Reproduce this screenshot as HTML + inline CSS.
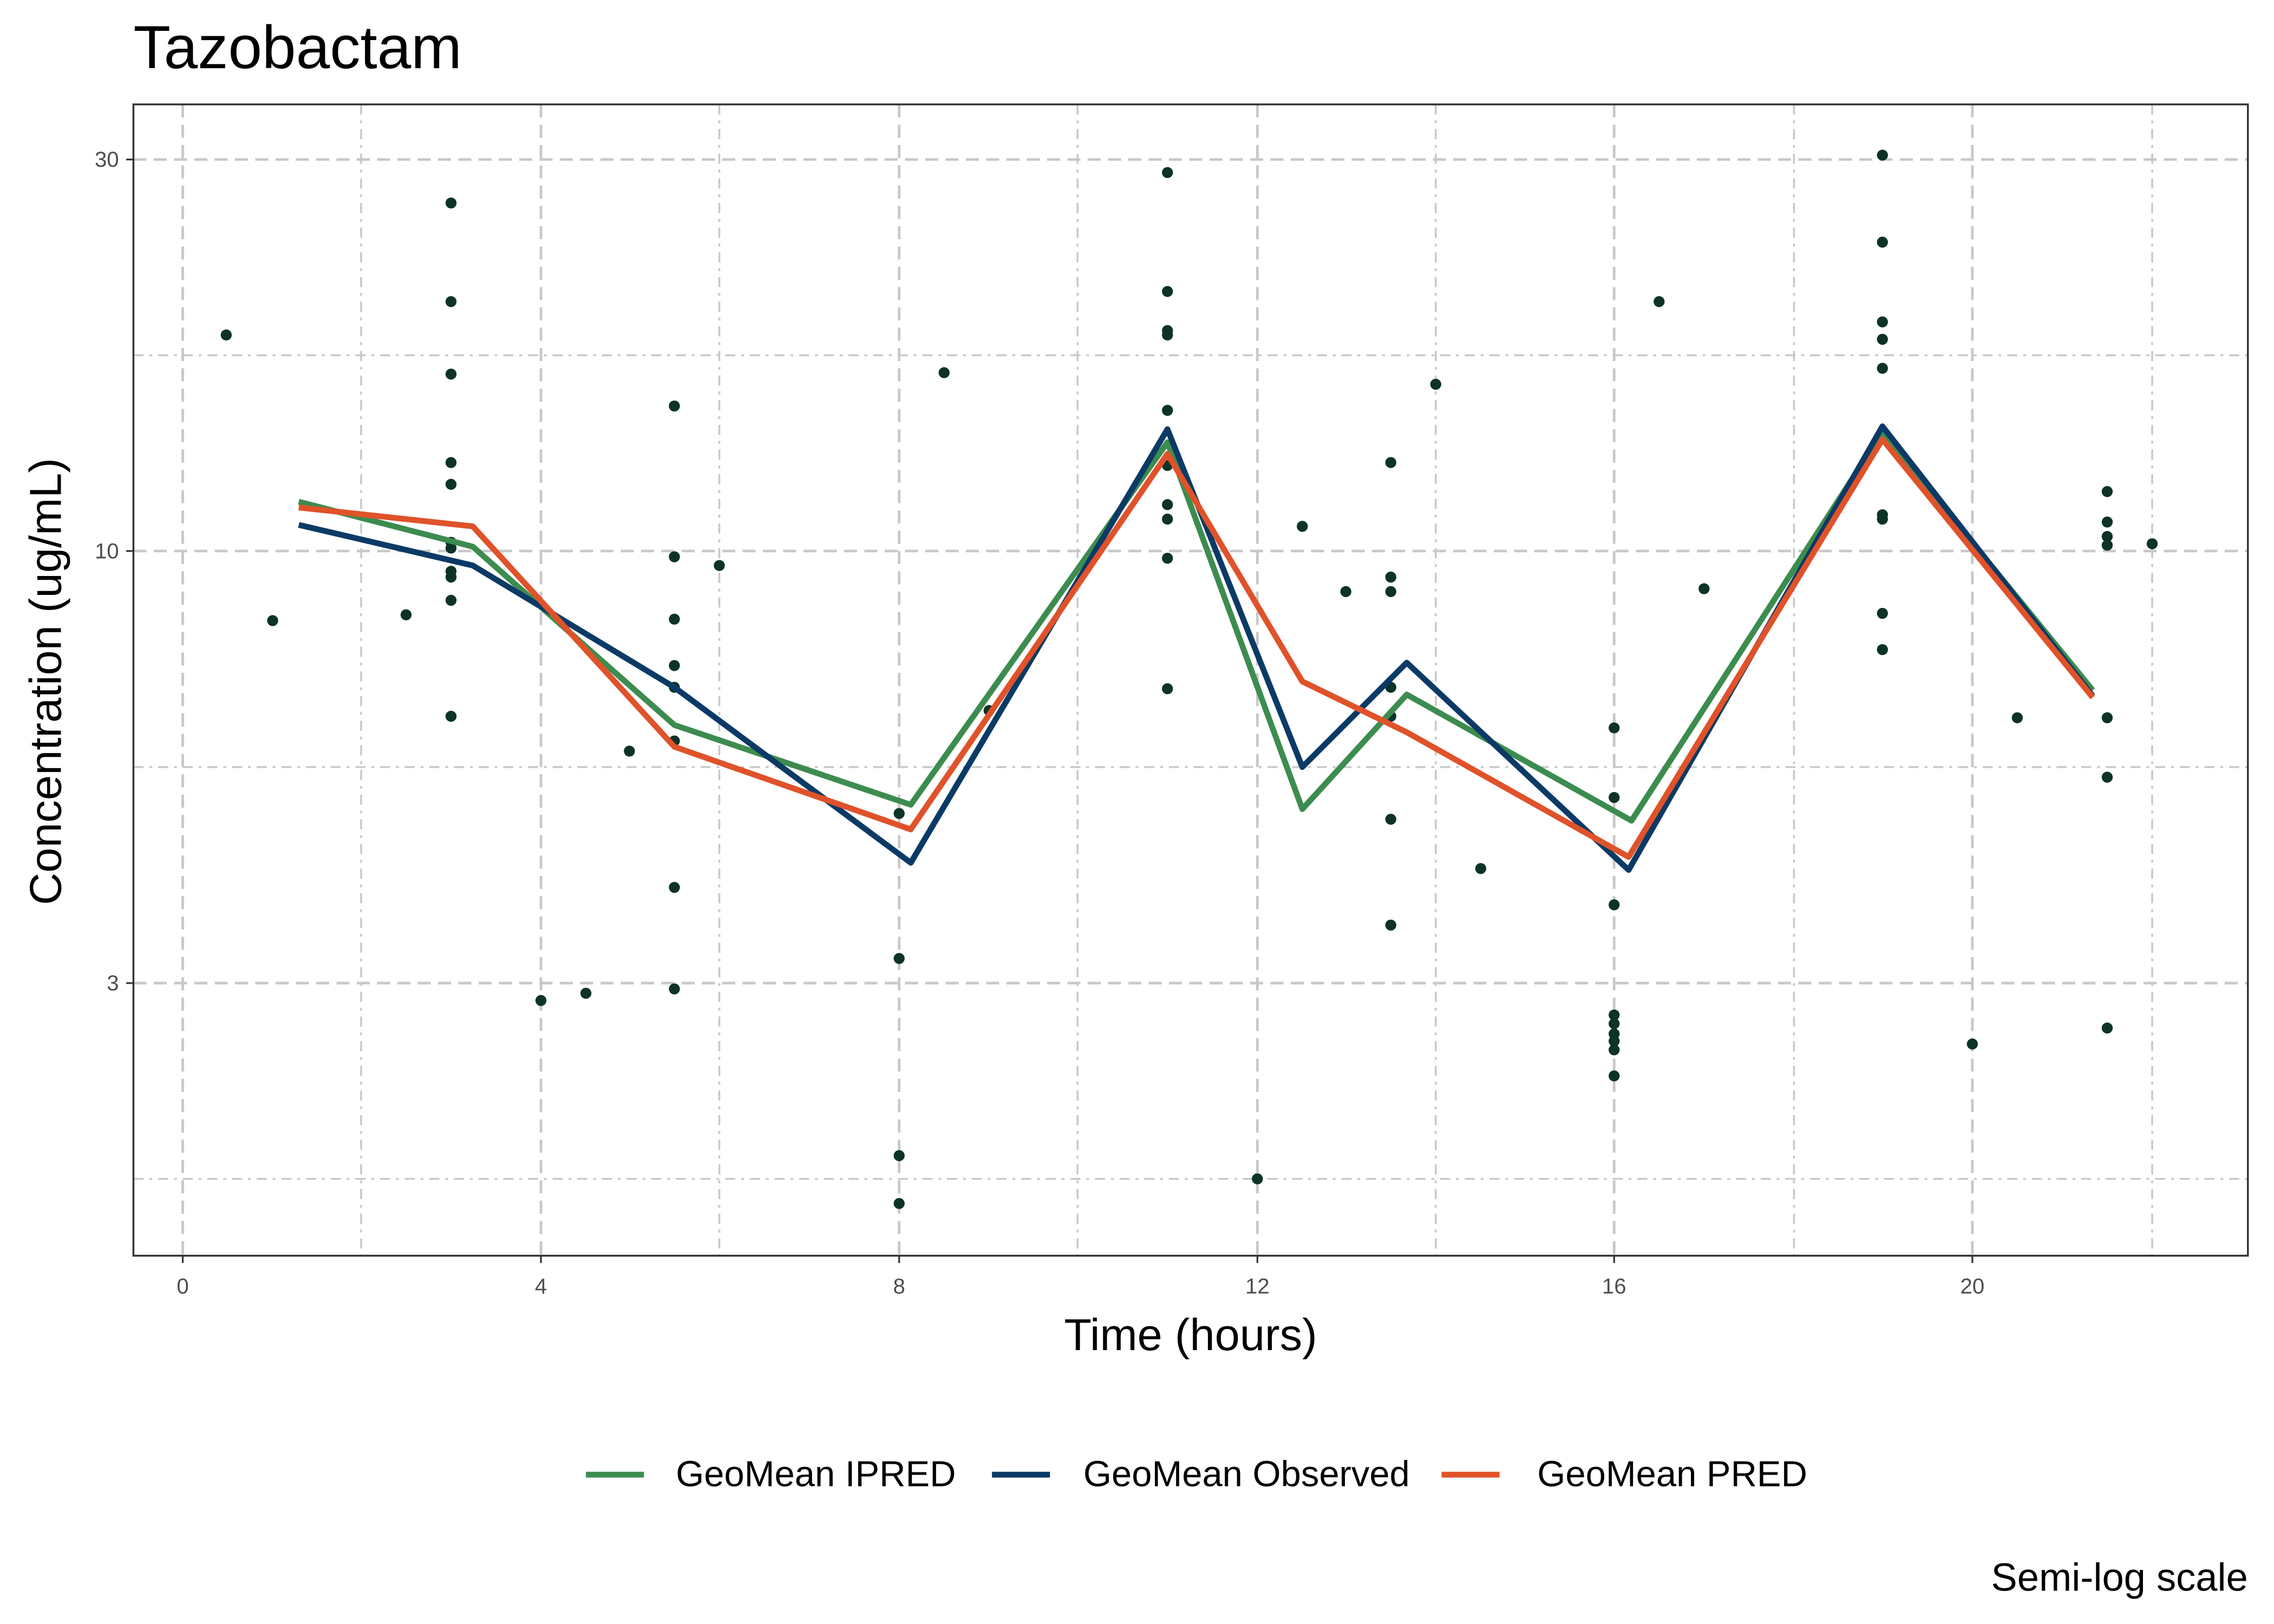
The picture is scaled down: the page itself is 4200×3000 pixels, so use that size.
<!DOCTYPE html>
<html><head><meta charset="utf-8"><style>html,body{margin:0;padding:0;background:#fff}svg{display:block}</style></head><body>
<svg width="4200" height="3000" viewBox="0 0 1568 1120" xmlns="http://www.w3.org/2000/svg" font-family="Liberation Sans, Arial, sans-serif">
<rect width="1568" height="1120" fill="#fff"/>
<g stroke="#c8c8c8" stroke-width="1.3" stroke-dasharray="7,4,2,4" fill="none">
<line x1="92" x2="1550" y1="245" y2="245"/><line x1="92" x2="1550" y1="529" y2="529"/><line x1="92" x2="1550" y1="813" y2="813"/>
<line x1="249" x2="249" y1="72" y2="866"/><line x1="496" x2="496" y1="72" y2="866"/><line x1="743" x2="743" y1="72" y2="866"/><line x1="990" x2="990" y1="72" y2="866"/><line x1="1237" x2="1237" y1="72" y2="866"/><line x1="1484" x2="1484" y1="72" y2="866"/>
</g>
<g stroke="#c8c8c8" stroke-width="1.8" stroke-dasharray="9,5" fill="none">
<line x1="92" x2="1550" y1="110" y2="110"/><line x1="92" x2="1550" y1="380" y2="380"/><line x1="92" x2="1550" y1="678" y2="678"/>
<line x1="126" x2="126" y1="72" y2="866"/><line x1="373" x2="373" y1="72" y2="866"/><line x1="620" x2="620" y1="72" y2="866"/><line x1="867" x2="867" y1="72" y2="866"/><line x1="1113" x2="1113" y1="72" y2="866"/><line x1="1360" x2="1360" y1="72" y2="866"/>
</g>
<g fill="#0d3328">
<circle cx="156" cy="231" r="3.8"/><circle cx="188" cy="428" r="3.8"/><circle cx="280" cy="424" r="3.8"/><circle cx="311" cy="140" r="3.8"/><circle cx="311" cy="208" r="3.8"/><circle cx="311" cy="258" r="3.8"/><circle cx="311" cy="319" r="3.8"/><circle cx="311" cy="334" r="3.8"/><circle cx="311" cy="374" r="3.8"/><circle cx="311" cy="378" r="3.8"/><circle cx="311" cy="394" r="3.8"/><circle cx="311" cy="398" r="3.8"/><circle cx="311" cy="414" r="3.8"/><circle cx="311" cy="494" r="3.8"/><circle cx="373" cy="690" r="3.8"/><circle cx="404" cy="685" r="3.8"/><circle cx="434" cy="518" r="3.8"/><circle cx="465" cy="280" r="3.8"/><circle cx="465" cy="384" r="3.8"/><circle cx="465" cy="427" r="3.8"/><circle cx="465" cy="459" r="3.8"/><circle cx="465" cy="474" r="3.8"/><circle cx="465" cy="511" r="3.8"/><circle cx="465" cy="612" r="3.8"/><circle cx="465" cy="682" r="3.8"/><circle cx="496" cy="390" r="3.8"/><circle cx="620" cy="561" r="3.8"/><circle cx="620" cy="661" r="3.8"/><circle cx="620" cy="797" r="3.8"/><circle cx="620" cy="830" r="3.8"/><circle cx="651" cy="257" r="3.8"/><circle cx="682" cy="490" r="3.8"/><circle cx="805" cy="119" r="3.8"/><circle cx="805" cy="201" r="3.8"/><circle cx="805" cy="228" r="3.8"/><circle cx="805" cy="231" r="3.8"/><circle cx="805" cy="283" r="3.8"/><circle cx="805" cy="321" r="3.8"/><circle cx="805" cy="348" r="3.8"/><circle cx="805" cy="358" r="3.8"/><circle cx="805" cy="385" r="3.8"/><circle cx="805" cy="475" r="3.8"/><circle cx="867" cy="813" r="3.8"/><circle cx="898" cy="363" r="3.8"/><circle cx="928" cy="408" r="3.8"/><circle cx="959" cy="319" r="3.8"/><circle cx="959" cy="398" r="3.8"/><circle cx="959" cy="408" r="3.8"/><circle cx="959" cy="474" r="3.8"/><circle cx="959" cy="494" r="3.8"/><circle cx="959" cy="565" r="3.8"/><circle cx="959" cy="638" r="3.8"/><circle cx="990" cy="265" r="3.8"/><circle cx="1021" cy="599" r="3.8"/><circle cx="1113" cy="502" r="3.8"/><circle cx="1113" cy="550" r="3.8"/><circle cx="1113" cy="624" r="3.8"/><circle cx="1113" cy="700" r="3.8"/><circle cx="1113" cy="706" r="3.8"/><circle cx="1113" cy="713" r="3.8"/><circle cx="1113" cy="718" r="3.8"/><circle cx="1113" cy="724" r="3.8"/><circle cx="1113" cy="742" r="3.8"/><circle cx="1144" cy="208" r="3.8"/><circle cx="1175" cy="406" r="3.8"/><circle cx="1298" cy="107" r="3.8"/><circle cx="1298" cy="167" r="3.8"/><circle cx="1298" cy="222" r="3.8"/><circle cx="1298" cy="234" r="3.8"/><circle cx="1298" cy="254" r="3.8"/><circle cx="1298" cy="355" r="3.8"/><circle cx="1298" cy="358" r="3.8"/><circle cx="1298" cy="423" r="3.8"/><circle cx="1298" cy="448" r="3.8"/><circle cx="1360" cy="720" r="3.8"/><circle cx="1391" cy="495" r="3.8"/><circle cx="1453" cy="339" r="3.8"/><circle cx="1453" cy="360" r="3.8"/><circle cx="1453" cy="370" r="3.8"/><circle cx="1453" cy="376" r="3.8"/><circle cx="1453" cy="495" r="3.8"/><circle cx="1453" cy="536" r="3.8"/><circle cx="1453" cy="709" r="3.8"/><circle cx="1484" cy="375" r="3.8"/>
</g>
<g fill="none" stroke-width="4" stroke-linejoin="round">
<polyline stroke="#3d8c4f" points="206,346 326,377 465,500 628,555 805,305 898,558 970,479 1125,566 1298,298 1443,476"/>
<polyline stroke="#0b3a66" points="206,362 326,390 465,474 628,595 805,296 898,529 970,457 1123,600 1298,294 1443,480"/>
<polyline stroke="#e0522a" points="206,350 326,363 465,515 628,572 805,313 898,470 970,505 1123,591 1298,303 1443,481"/>
</g>
<rect x="92" y="72" width="1458" height="794" fill="none" stroke="#333" stroke-width="1.3"/>
<g stroke="#333" stroke-width="1.2">
<line x1="87" x2="92" y1="110" y2="110"/><line x1="87" x2="92" y1="380" y2="380"/><line x1="87" x2="92" y1="678" y2="678"/>
<line x1="126" x2="126" y1="866" y2="871"/><line x1="373" x2="373" y1="866" y2="871"/><line x1="620" x2="620" y1="866" y2="871"/><line x1="867" x2="867" y1="866" y2="871"/><line x1="1113" x2="1113" y1="866" y2="871"/><line x1="1360" x2="1360" y1="866" y2="871"/>
</g>
<g font-size="15" fill="#4d4d4d">
<g text-anchor="end"><text x="82" y="115">30</text><text x="82" y="385">10</text><text x="82" y="683">3</text></g>
<g text-anchor="middle"><text x="126" y="892">0</text><text x="373" y="892">4</text><text x="620" y="892">8</text><text x="867" y="892">12</text><text x="1113" y="892">16</text><text x="1360" y="892">20</text></g>
</g>
<text x="92" y="47" font-size="42">Tazobactam</text>
<text x="821" y="931" font-size="31" text-anchor="middle">Time (hours)</text>
<text transform="translate(42,470) rotate(-90)" font-size="31" text-anchor="middle">Concentration (ug/mL)</text>
<g stroke-width="4">
<line x1="404" x2="444" y1="1017" y2="1017" stroke="#3d8c4f"/>
<line x1="684" x2="724" y1="1017" y2="1017" stroke="#0b3a66"/>
<line x1="994" x2="1034" y1="1017" y2="1017" stroke="#e0522a"/>
</g>
<g font-size="25">
<text x="466" y="1025">GeoMean IPRED</text>
<text x="747" y="1025">GeoMean Observed</text>
<text x="1060" y="1025">GeoMean PRED</text>
<text x="1550" y="1097" text-anchor="end" font-size="27">Semi-log scale</text>
</g>
</svg>
</body></html>
